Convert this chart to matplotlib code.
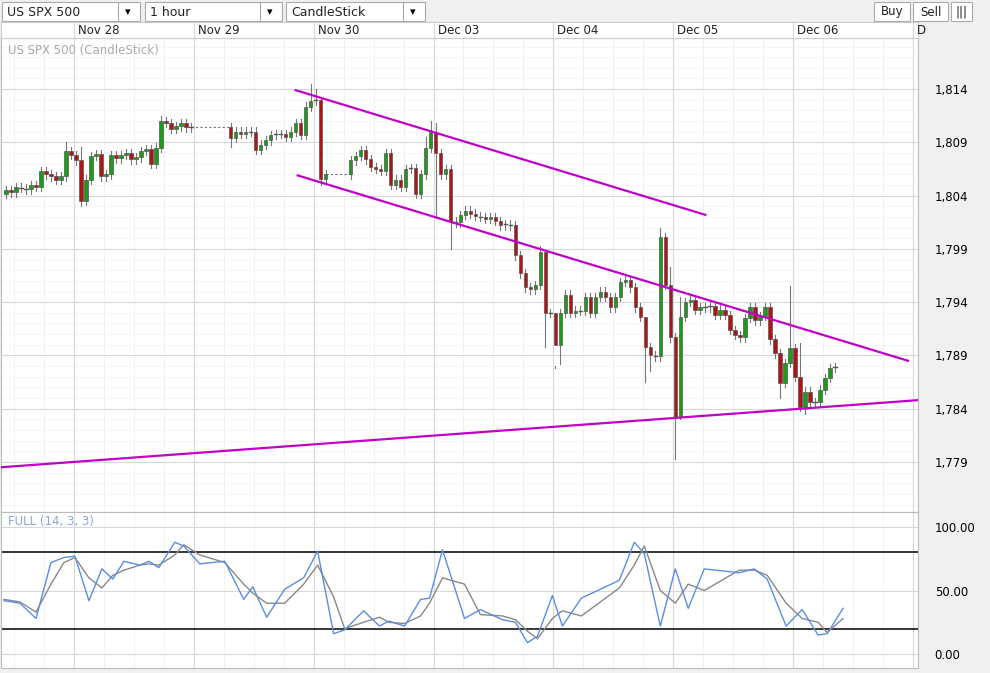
import matplotlib
matplotlib.use("Agg")
import matplotlib.pyplot as plt
import numpy as np
from matplotlib.patches import Rectangle

closes = [1804.5,1804.3,1804.8,1804.7,1804.6,1805.0,1804.8,1806.3,1806.0,1805.8,
1805.5,1805.8,1808.2,1807.8,1807.3,1803.5,1805.5,1807.7,1807.9,1805.8,
1806.0,1807.8,1807.5,1807.8,1808.0,1807.4,1807.6,1808.2,1808.4,1807.0,
1808.5,1811.0,1810.8,1810.3,1810.5,1810.8,1810.4,1810.4,None,None,
None,None,None,None,None,1809.4,1810.0,1809.8,1810.0,1810.0,
1808.3,1808.8,1809.2,1809.7,1809.8,1809.8,1809.5,1810.0,1810.8,1809.7,
1812.3,1812.9,1813.0,1805.6,1806.0,None,None,None,None,1807.3,
1807.7,1808.3,1807.4,1806.7,1806.5,1806.3,1808.0,1805.0,1805.5,1804.8,
1806.5,1806.6,1804.2,1806.0,1808.5,1810.0,1808.0,1806.0,1806.5,1801.6,
1801.5,1802.2,1802.6,1802.3,1802.1,1802.0,1801.8,1802.0,1801.6,1801.2,
1801.3,1801.2,1798.4,1796.7,1795.4,1795.2,1795.6,1798.7,1793.0,1793.0,
1790.0,1793.0,1794.7,1793.0,1793.2,1793.2,1794.5,1793.0,1794.5,1795.0,
1794.5,1793.5,1794.5,1795.9,1796.1,1795.4,1793.5,1792.6,1789.8,1789.0,
1788.9,1800.1,1795.6,1790.7,1783.2,1792.6,1794.0,1794.2,1793.3,1793.5,
1793.5,1793.6,1792.8,1793.3,1792.8,1791.4,1790.9,1790.7,1792.5,1793.5,
1792.3,1792.7,1793.5,1790.5,1789.2,1786.4,1788.3,1789.7,1787.0,1784.2,
1785.6,1784.6,1784.6,1785.8,1786.9,1787.8,1787.9]
first_open = 1804.2
spike_high = {12:1809.0,15:1808.6,31:1811.5,60:1812.8,61:1814.5,62:1814.0,63:1813.3,
              84:1809.5,85:1811.0,86:1810.8,107:1799.3,108:1798.0,110:1788.0,
              128:1791.0,131:1801.0,133:1797.3,135:1794.5,157:1795.5,159:1790.2}
spike_low = {15:1803.0,45:1808.6,63:1805.0,86:1802.0,89:1799.0,108:1789.8,110:1787.8,
             111:1788.2,128:1786.5,129:1787.5,134:1779.3,135:1783.0,155:1785.0,
             159:1783.8,160:1783.5}

day_labels = ["Nov 28","Nov 29","Nov 30","Dec 03","Dec 04","Dec 05","Dec 06","D"]
price_ticks = [1779,1784,1789,1794,1799,1804,1809,1814]

stoch_idx = [-0.4,2.8,6,9,11.6,13.8,16.6,19.2,21.4,23.6,26.8,28.6,30.6,33.8,35.6,38.8,43.8,
             47.6,49.4,52.2,55.8,59.6,62.4,65.6,67.8,71.6,74.8,76.6,79.8,83,84.8,87.4,
             91.8,95,99.4,102,104.4,106.4,109.4,111.4,115.2,122.8,125.8,127.8,131,134,
             136.6,139.8,146.8,149.8,152.4,156.2,159.4,162.6,164.4,167.6]
stoch_k = [42,40,28,72,76,77,42,67,59,73,70,73,68,88,85,71,73,43,53,29,51,60,81,16,19,
           34,22,26,22,43,44,82,28,35,27,25,9,14,46,22,44,58,88,79,22,67,36,67,64,67,59,
           22,35,15,16,36]
stoch_d = [43,41,33,55,72,76,60,52,62,66,70,71,70,78,86,78,72,55,48,40,40,55,70,45,20,
           25,29,25,24,30,40,60,55,31,30,27,18,12,28,34,30,52,70,85,50,40,55,50,66,66,62,
           40,28,25,17,28]

up_ch = [(58, 1813.9), (140, 1802.2)]
lo_ch = [(58.4, 1805.9), (180.6, 1788.5)]
sup = [(-1, 1778.5), (182.6, 1784.8)]

def px(y):  # helper not used for data
    return y

fig = plt.figure(figsize=(9.9, 6.73), dpi=100)
fig.patch.set_facecolor("#f0f0f0")
W, H = 990, 673
def fr(x0, y0, x1, y1):
    return [x0/W, 1-y1/H, (x1-x0)/W, (y1-y0)/H]

# toolbar
tb = fig.add_axes([0, 0, 1, 1], zorder=-1); tb.axis("off"); tb.set_xlim(0, W); tb.set_ylim(H, 0)
for (a, b, t) in [(2, 140, "US SPX 500"), (145, 282, "1 hour"), (286, 425, "CandleStick")]:
    tb.add_patch(Rectangle((a, 2), b-a, 19, fc="white", ec="#aaaaaa", lw=0.8))
    tb.text(a+5, 12, t, va="center", fontsize=9, color="#222222")
    tb.text(b-12, 12, "▾", va="center", ha="center", fontsize=8)
    tb.plot([b-22, b-22], [2, 21], color="#aaaaaa", lw=0.8)
for (a, b, t) in [(874, 910, "Buy"), (913, 948, "Sell"), (951, 972, "|||")]:
    tb.add_patch(Rectangle((a, 2), b-a, 19, fc="white", ec="#aaaaaa", lw=0.8))
    tb.text((a+b)/2, 12, t, va="center", ha="center", fontsize=8.5, color="#222222")
tb.add_patch(Rectangle((1, 22), 917, 16, fc="white", ec="#cccccc", lw=0.8))

xl = (-1, 182.6)
ax = fig.add_axes(fr(1, 38, 918, 512))
ax2 = fig.add_axes(fr(1, 512, 918, 668))
hd = fig.add_axes(fr(1, 22, 918, 38))
for a in (ax, ax2, hd):
    a.set_xlim(*xl)
    a.set_facecolor("white")
ax.set_ylim(1774.3, 1818.8)
ax2.set_ylim(-11, 111.8)
hd.set_ylim(0, 1)

day_pos = [13.6 + 24*k for k in range(len(day_labels))]
minor = np.arange(13.6-24, 190, 6)
for a in (ax, ax2):
    for m in minor:
        a.axvline(m, color="#f0f0f0", lw=0.6, zorder=0)
    for d in day_pos:
        a.axvline(d, color="#d8d8d8", lw=0.8, zorder=0)
for d, lab in zip(day_pos, day_labels):
    hd.axvline(d, color="#d8d8d8", lw=0.8)
    hd.text(d+0.8, 0.5, lab, va="center", fontsize=8.5, color="#222222")
hd.set_xticks([]); hd.set_yticks([])
for s in hd.spines.values(): s.set_color("#cccccc")

for p in np.arange(1774, 1819, 1.0):
    ax.axhline(p, color="#f3f3f3", lw=0.5, zorder=0)
for p in price_ticks:
    ax.axhline(p, color="#d8d8d8", lw=0.8, zorder=0)

# candles
prev = first_open
last_valid = first_open
gap_start = None
for i, c in enumerate(closes):
    if c is None:
        if gap_start is None:
            gap_start = i - 1
        continue
    if gap_start is not None:
        ax.plot([gap_start, i], [last_valid, last_valid], color="#777777", lw=0.8, ls=(0, (2, 2)), zorder=2)
        gap_start = None
    o = last_valid
    hi = spike_high.get(i, max(o, c) + 0.4)
    lo = spike_low.get(i, min(o, c) - 0.4)
    ax.plot([i, i], [lo, hi], color="#777777", lw=0.8, zorder=2)
    col = "#1a9c1a" if c >= o else "#b01515"
    h = abs(c - o)
    if h < 0.15:
        ax.plot([i-0.35, i+0.35], [c, c], color="#555555", lw=1, zorder=3)
    else:
        ax.add_patch(Rectangle((i-0.35, min(o, c)), 0.7, h, fc=col, ec="#555555", lw=0.5, zorder=3))
    last_valid = c

for seg in (up_ch, lo_ch, sup):
    ax.plot([seg[0][0], seg[1][0]], [seg[0][1], seg[1][1]], color="#c000c8", lw=1.6, zorder=4)

ax.text(0.5, 1817.6, "US SPX 500 (CandleStick)", fontsize=8.5, color="#aaaaaa", va="center")
ax.yaxis.tick_right()
ax.set_yticks(price_ticks)
ax.set_yticklabels([f"{p:,}" for p in price_ticks], fontsize=8.5)
ax.tick_params(axis="y", length=0, pad=12)
ax.set_xticks([])

ax2.plot(stoch_idx, stoch_d, color="#888888", lw=1, zorder=3)
ax2.plot(stoch_idx, stoch_k, color="#5b8ee0", lw=1, zorder=4)
ax2.axhline(80, color="black", lw=1.1)
ax2.axhline(20, color="black", lw=1.1)
for v in (0, 50, 100):
    ax2.axhline(v, color="#d8d8d8", lw=0.8, zorder=0)
ax2.text(0.5, 104, "FULL (14, 3, 3)", fontsize=8.5, color="#8aa6d8", va="center")
ax2.yaxis.tick_right()
ax2.set_yticks([0, 50, 100])
ax2.set_yticklabels(["0.00", "50.00", "100.00"], fontsize=8.5)
ax2.tick_params(axis="y", length=0, pad=12)
ax2.set_xticks([])
for a in (ax, ax2):
    for s in a.spines.values(): s.set_color("#bbbbbb")

fig.savefig("out.png", dpi=100)
